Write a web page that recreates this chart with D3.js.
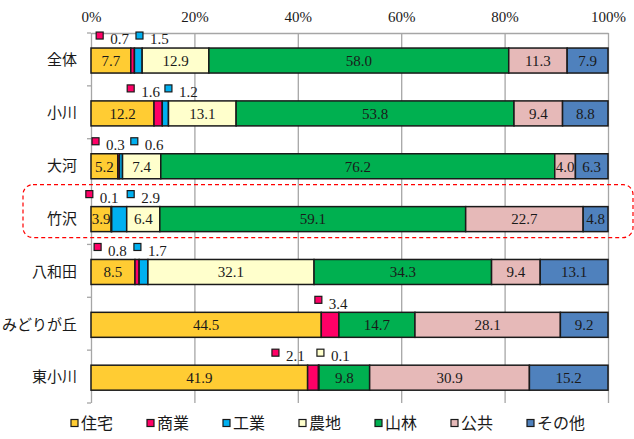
<!DOCTYPE html>
<html>
<head>
<meta charset="utf-8">
<script src="https://cdn.jsdelivr.net/npm/d3@7"></script>
<style>
  body { margin: 0; background: #fff; }
  svg { display: block; }
  .num { font-family: "Liberation Serif", "DejaVu Serif", serif; }
  .jp { font-family: "Noto Sans CJK JP", sans-serif; }
</style>
</head>
<body>
<script>
// land use share by district (%)
var categories = ["全体", "小川", "大河", "竹沢", "八和田", "みどりが丘", "東小川"];
var seriesNames = ["住宅", "商業", "工業", "農地", "山林", "公共", "その他"];
var jutaku = [7.7, 12.2, 5.2, 3.9, 8.5, 44.5, 41.9];
var shogyo = [0.7, 1.6, 0.3, 0.1, 0.8, 3.4, 2.1];
var kogyo  = [1.5, 1.2, 0.6, 2.9, 1.7, 0.0, 0.0];
var nochi  = [12.9, 13.1, 7.4, 6.4, 32.1, 0.0, 0.1];
var sanrin = [58.0, 53.8, 76.2, 59.1, 34.3, 14.7, 9.8];
var kokyo  = [11.3, 9.4, 4.0, 22.7, 9.4, 28.1, 30.9];
var sonota = [7.9, 8.8, 6.3, 4.8, 13.1, 9.2, 15.2];
var xTicks = [0, 0.2, 0.4, 0.6, 0.8, 1.0];
// small values shown above the bar: [district, series, anchor in % of axis]
var callouts = [
	["全体", "商業", 1.0], ["全体", "工業", 8.7],
	["小川", "商業", 7.0], ["小川", "工業", 14.3],
	["大河", "商業", 0.2], ["大河", "工業", 7.7],
	["竹沢", "商業", -1.0], ["竹沢", "工業", 7.0],
	["八和田", "商業", 0.6], ["八和田", "工業", 8.3],
	["みどりが丘", "商業", 43.3],
	["東小川", "商業", 35.0], ["東小川", "農地", 43.7]
];
var highlight = "竹沢";

var colors = ["#FFCC33", "#FF0066", "#00B0F0", "#FFFFCC", "#00B050", "#E6B9B8", "#4F81BD"];
var width = 634, height = 439;
var plotLeft = 91, plotRight = 608, plotTop = 33, plotBottom = 403;

var cols = [jutaku, shogyo, kogyo, nochi, sanrin, kokyo, sonota];
var table = categories.map(function(c, i){
	var row = {cat: c};
	seriesNames.forEach(function(s, j){ row[s] = cols[j][i]; });
	return row;
});

var svg = d3.select("body").append("svg")
	.attr("width", width)
	.attr("height", height);

var x = d3.scaleLinear().domain([0, 1]).range([plotLeft, plotRight]);
var y = d3.scaleBand().domain(categories).range([plotTop, plotBottom])
	.paddingInner(0.527).paddingOuter(0.2635).align(0.54);
var color = d3.scaleOrdinal().domain(seriesNames).range(colors);

// grid + top labels
var xAxis = d3.axisTop(x).tickValues(xTicks).tickFormat(d3.format(".0%"))
	.tickSize(-(plotBottom - plotTop)).tickSizeOuter(0).tickPadding(11);
var gx = svg.append("g").attr("transform", "translate(0," + plotTop + ")").call(xAxis)
	.attr("font-family", null);
gx.selectAll("line").attr("stroke", "#a6a6a6").attr("stroke-width", 1.3);
gx.select(".domain").attr("stroke", "#a6a6a6").attr("stroke-width", 1.3);
gx.selectAll("text").attr("class", "num").style("font-size", "15px").attr("fill", "#1a1a1a");

// category ticks at band boundaries
var stepY = (plotBottom - plotTop) / categories.length;
svg.append("g").selectAll("line")
	.data(d3.range(categories.length + 1))
	.enter().append("line")
		.attr("x1", plotLeft - 4).attr("x2", plotLeft)
		.attr("y1", function(k){ return plotTop + k * stepY; })
		.attr("y2", function(k){ return plotTop + k * stepY; })
		.attr("stroke", "#a6a6a6").attr("stroke-width", 1.3);

var yAxis = d3.axisLeft(y).tickSize(0).tickPadding(14);
var gy = svg.append("g").attr("transform", "translate(" + plotLeft + ",0)").call(yAxis)
	.attr("font-family", null);
gy.select(".domain").remove();
gy.selectAll("text").attr("class", "jp").style("font-size", "15px").attr("fill", "#1a1a1a");

// bars
var stack = d3.stack().keys(seriesNames).offset(d3.stackOffsetExpand);
var layers = stack(table);

var groups = svg.selectAll("g.layer")
	.data(layers)
	.enter().append("g")
		.attr("class", "layer")
		.attr("fill", function(d){ return color(d.key); });

groups.selectAll("rect")
	.data(function(d){ return d.filter(function(p){ return p[1] - p[0] > 0; }); })
	.enter().append("rect")
		.attr("x", function(d){ return x(d[0]); })
		.attr("y", function(d){ return y(d.data.cat); })
		.attr("width", function(d){ return x(d[1]) - x(d[0]); })
		.attr("height", y.bandwidth())
		.attr("stroke", "#1a1a1a")
		.attr("stroke-width", 1.5);

// labels inside segments
layers.forEach(function(layer){
	if (layer.key == "商業" || layer.key == "工業") return;
	svg.append("g").selectAll("text")
		.data(layer.filter(function(p){ return p.data[layer.key] >= 1; }))
		.enter().append("text")
			.attr("class", "num")
			.attr("x", function(d){ return (x(d[0]) + x(d[1])) / 2; })
			.attr("y", function(d){ return y(d.data.cat) + y.bandwidth() / 2; })
			.attr("dy", "0.35em")
			.attr("text-anchor", "middle")
			.style("font-size", "15px")
			.attr("fill", "#1a1a1a")
			.text(function(d){ return d.data[layer.key].toFixed(1); });
});

// callouts above bars
var cg = svg.append("g").selectAll("g")
	.data(callouts)
	.enter().append("g")
		.attr("transform", function(d){ return "translate(" + x(d[2] / 100) + "," + y(d[0]) + ")"; });
cg.append("rect")
	.attr("x", 0).attr("y", -16)
	.attr("width", 7).attr("height", 7)
	.attr("fill", function(d){ return color(d[1]); })
	.attr("stroke", "#1a1a1a").attr("stroke-width", 1.2);
cg.append("text")
	.attr("class", "num")
	.attr("x", 14).attr("y", -9)
	.attr("dy", "0.35em")
	.style("font-size", "15px")
	.attr("fill", "#1a1a1a")
	.text(function(d){ return table[categories.indexOf(d[0])][d[1]].toFixed(1); });

// dashed highlight around one row
svg.append("rect")
	.attr("x", 23).attr("y", y(highlight) - 22)
	.attr("width", 610).attr("height", y.bandwidth() + 28)
	.attr("rx", 10).attr("ry", 10)
	.attr("fill", "none")
	.attr("stroke", "#ff0000")
	.attr("stroke-width", 1.2)
	.attr("stroke-dasharray", "4,3");

// legend
var legend = svg.append("g").selectAll("g")
	.data(seriesNames)
	.enter().append("g")
		.attr("transform", function(d, i){ return "translate(" + (71 + i * 76) + ",423)"; });
legend.append("rect")
	.attr("x", 0).attr("y", -3.5)
	.attr("width", 7).attr("height", 7)
	.attr("fill", function(d){ return color(d); })
	.attr("stroke", "#1a1a1a").attr("stroke-width", 1.2);
legend.append("text")
	.attr("class", "jp")
	.attr("x", 10).attr("y", 0)
	.attr("dy", "0.36em")
	.style("font-size", "16px")
	.attr("fill", "#1a1a1a")
	.text(function(d){ return d; });
</script>
</body>
</html>
